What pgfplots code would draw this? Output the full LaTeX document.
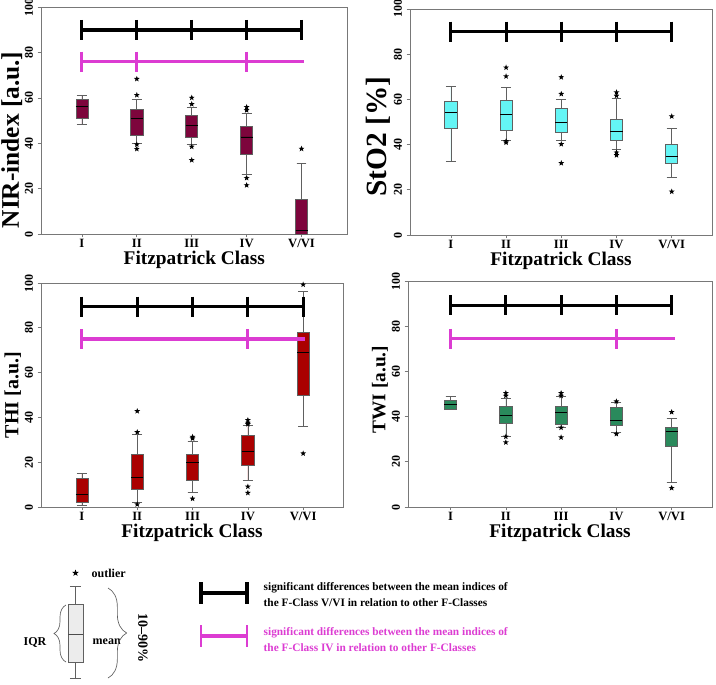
\documentclass[border=0pt]{standalone}
\usepackage{pgfplots}
\pgfplotsset{compat=1.18}
\usepgfplotslibrary{statistics}
\usetikzlibrary{decorations.pathreplacing}
\usepackage{fontspec}
\setmainfont{Liberation Serif}

\definecolor{nircol}{RGB}{125,5,60}
\definecolor{stocol}{RGB}{100,245,245}
\definecolor{thicol}{RGB}{170,0,0}
\definecolor{twicol}{RGB}{42,138,92}
\definecolor{sigmag}{RGB}{220,60,210}
\definecolor{axgray}{RGB}{120,120,120}

\pgfdeclareplotmark{fstar}{%
  \pgfpathmoveto{\pgfpointpolar{90}{\pgfplotmarksize}}%
  \pgfpathlineto{\pgfpointpolar{126}{0.42*\pgfplotmarksize}}%
  \pgfpathlineto{\pgfpointpolar{162}{\pgfplotmarksize}}%
  \pgfpathlineto{\pgfpointpolar{198}{0.42*\pgfplotmarksize}}%
  \pgfpathlineto{\pgfpointpolar{234}{\pgfplotmarksize}}%
  \pgfpathlineto{\pgfpointpolar{270}{0.42*\pgfplotmarksize}}%
  \pgfpathlineto{\pgfpointpolar{306}{\pgfplotmarksize}}%
  \pgfpathlineto{\pgfpointpolar{342}{0.42*\pgfplotmarksize}}%
  \pgfpathlineto{\pgfpointpolar{18}{\pgfplotmarksize}}%
  \pgfpathlineto{\pgfpointpolar{54}{0.42*\pgfplotmarksize}}%
  \pgfpathclose\pgfusepathqfill}

\pgfplotsset{
  panel/.style={
    scale only axis, anchor=south west,
    ymin=0, ymax=100,
    xtick={1,2,3,4,5}, xticklabels={I,II,III,IV,V/VI},
    ytick={0,20,40,60,80,100},
    /pgf/number format/assume math mode=true,
    tick pos=left, tick align=outside, major tick length=2.5pt,
    axis line style={axgray, line width=0.6pt},
    every tick/.style={axgray, line width=0.5pt},
    xticklabel style={font=\bfseries\fontsize{9.5}{10}\selectfont, inner sep=1.5pt},
    yticklabel style={rotate=90, anchor=south, font=\bfseries\fontsize{9}{9}\selectfont},
    xlabel={Fitzpatrick Class},
    xlabel style={font=\bfseries\fontsize{14.5}{15}\selectfont, yshift=3pt},
    ylabel shift=-4pt,
    boxplot/draw direction=y,
    boxplot/box extend=0.22,
    boxplot/whisker extend=0.18,
    boxplot/every median/.style={black, line width=0.7pt},
    clip=false,
  },
  obox/.style={solid, draw=axgray!80!black, line width=0.5pt, fill=#1,
    mark=fstar, mark size=2.3pt, mark options={fill=black, draw=black}},
  sigblack/.style={black, line width=2.5pt, mark=|, mark size=7.5pt, mark options={line width=2.3pt}},
  sigmagenta/.style={sigmag, line width=2.3pt, mark=|, mark size=7.5pt, mark options={line width=2.2pt}},
}

\begin{document}
\begin{tikzpicture}
\useasboundingbox (0pt,0pt) rectangle (537pt,-513pt);

% ---------------- NIR-index ----------------
\begin{axis}[panel, at={(30.75pt,-175.5pt)}, width=230pt, height=170pt,
  xmin=0.255, xmax=5.84, ylabel shift=-5pt,
  ylabel={NIR-index [a.u.]}, ylabel style={at={(ticklabel cs:0.415)}, font=\bfseries\fontsize{19}{19}\selectfont}]
\addplot[obox=nircol, boxplot prepared={draw position=1, lower whisker=48.4, lower quartile=51.0, median=56.3, upper quartile=59.3, upper whisker=61.2}] coordinates {};
\addplot[obox=nircol, boxplot prepared={draw position=2, lower whisker=39.9, lower quartile=43.7, median=51.1, upper quartile=55.0, upper whisker=59.3}] table[row sep=\\, y index=0] {y\\68.4\\61.3\\39.5\\37.5\\};
\addplot[obox=nircol, boxplot prepared={draw position=3, lower whisker=39.6, lower quartile=42.8, median=48.0, upper quartile=52.4, upper whisker=56.0}] table[row sep=\\, y index=0] {y\\60.1\\57.3\\38.5\\32.6\\};
\addplot[obox=nircol, boxplot prepared={draw position=4, lower whisker=26.4, lower quartile=35.3, median=42.8, upper quartile=47.4, upper whisker=53.3}] table[row sep=\\, y index=0] {y\\56.0\\54.6\\24.7\\21.5\\};
\addplot[obox=nircol, boxplot prepared={draw position=5, lower whisker=0, lower quartile=0, median=1.5, upper quartile=15.4, upper whisker=31.1}] table[row sep=\\, y index=0] {y\\37.6\\};
\addplot[sigblack] coordinates {(1,90) (2,90) (3,90) (4,90) (5,90)};
\addplot[sigmagenta, mark indices={1,2,4}] coordinates {(1,76) (2,76) (3,76) (4,76) (5.05,76)};
\end{axis}

% ---------------- StO2 ----------------
\begin{axis}[panel, at={(307.5pt,-176.25pt)}, width=226.5pt, height=169.5pt,
  xmin=0.26, xmax=5.73,
  ylabel={StO2 [\%]}, ylabel style={at={(ticklabel cs:0.435)}, font=\bfseries\fontsize{22}{22}\selectfont}]
\addplot[obox=stocol, boxplot prepared={draw position=1, lower whisker=32.6, lower quartile=47.2, median=54.3, upper quartile=59.1, upper whisker=65.8}] coordinates {};
\addplot[obox=stocol, boxplot prepared={draw position=2, lower whisker=42.0, lower quartile=46.3, median=53.4, upper quartile=59.8, upper whisker=65.3}] table[row sep=\\, y index=0] {y\\74.1\\70.2\\41.5\\40.9\\};
\addplot[obox=stocol, boxplot prepared={draw position=3, lower whisker=42.0, lower quartile=45.4, median=49.9, upper quartile=56.1, upper whisker=60.1}] table[row sep=\\, y index=0] {y\\69.8\\62.4\\40.2\\31.8\\};
\addplot[obox=stocol, boxplot prepared={draw position=4, lower whisker=37.8, lower quartile=42.0, median=45.7, upper quartile=51.2, upper whisker=60.4}] table[row sep=\\, y index=0] {y\\63.1\\61.6\\36.5\\35.3\\};
\addplot[obox=stocol, boxplot prepared={draw position=5, lower whisker=25.3, lower quartile=31.8, median=34.8, upper quartile=40.3, upper whisker=47.2}] table[row sep=\\, y index=0] {y\\52.5\\19.2\\};
\addplot[sigblack] coordinates {(1,90) (2,90) (3,90) (4,90) (5,90)};
\end{axis}

% ---------------- THI ----------------
\begin{axis}[panel, at={(30.75pt,-380.25pt)}, width=226.5pt, height=168pt,
  xmin=0.26, xmax=5.72,
  ylabel={THI [a.u.]}, ylabel style={font=\bfseries\fontsize{15}{15}\selectfont}]
\addplot[obox=thicol, boxplot prepared={draw position=1, lower whisker=0.6, lower quartile=2.2, median=5.5, upper quartile=12.7, upper whisker=14.9}] coordinates {};
\addplot[obox=thicol, boxplot prepared={draw position=2, lower whisker=2.2, lower quartile=7.8, median=13.1, upper quartile=23.7, upper whisker=32.5}] table[row sep=\\, y index=0] {y\\42.8\\33.4\\1.2\\};
\addplot[obox=thicol, boxplot prepared={draw position=3, lower whisker=6.6, lower quartile=11.8, median=19.9, upper quartile=23.7, upper whisker=29.3}] table[row sep=\\, y index=0] {y\\31.3\\30.6\\3.7\\};
\addplot[obox=thicol, boxplot prepared={draw position=4, lower whisker=11.8, lower quartile=18.4, median=24.9, upper quartile=31.9, upper whisker=36.4}] table[row sep=\\, y index=0] {y\\38.8\\37.6\\37.0\\9.1\\6.3\\};
\addplot[obox=thicol, boxplot prepared={draw position=5, lower whisker=36.1, lower quartile=49.7, median=69.1, upper quartile=77.9, upper whisker=96.1}] table[row sep=\\, y index=0] {y\\99.3\\23.9\\};
\addplot[sigblack] coordinates {(1,89.5) (2,89.5) (3,89.5) (4,89.5) (5,89.5)};
\addplot[sigmagenta, mark indices={1,4}] coordinates {(1,75) (2,75) (3,75) (4,75) (5.04,75)};
\end{axis}

% ---------------- TWI ----------------
\begin{axis}[panel, at={(306pt,-380.25pt)}, width=228pt, height=169.5pt,
  xmin=0.23, xmax=5.73,
  ylabel={TWI [a.u.]}, ylabel style={at={(ticklabel cs:0.52)}, font=\bfseries\fontsize{14.5}{15}\selectfont}]
\addplot[obox=twicol, boxplot prepared={draw position=1, lower whisker=43.0, lower quartile=43.3, median=45.5, upper quartile=47.4, upper whisker=48.9}] coordinates {};
\addplot[obox=twicol, boxplot prepared={draw position=2, lower whisker=31.1, lower quartile=37.0, median=40.7, upper quartile=44.4, upper whisker=48.2}] table[row sep=\\, y index=0] {y\\50.4\\49.2\\31.1\\28.6\\};
\addplot[obox=twicol, boxplot prepared={draw position=3, lower whisker=35.3, lower quartile=36.6, median=42.0, upper quartile=44.7, upper whisker=48.9}] table[row sep=\\, y index=0] {y\\50.4\\49.2\\35.1\\30.8\\};
\addplot[obox=twicol, boxplot prepared={draw position=4, lower whisker=33.1, lower quartile=36.0, median=38.4, upper quartile=44.2, upper whisker=46.2}] table[row sep=\\, y index=0] {y\\46.7\\32.3\\};
\addplot[obox=twicol, boxplot prepared={draw position=5, lower whisker=10.7, lower quartile=26.7, median=33.3, upper quartile=35.1, upper whisker=39.3}] table[row sep=\\, y index=0] {y\\42.0\\8.4\\};
\addplot[sigblack] coordinates {(1,89.2) (2,89.2) (3,89.2) (4,89.2) (5,89.2)};
\addplot[sigmagenta, mark indices={1,4}] coordinates {(1,74.4) (2,74.4) (3,74.4) (4,74.4) (5.06,74.4)};
\end{axis}

% ---------------- legend: box-plot key ----------------
\begin{axis}[at={(45.375pt,-513pt)}, anchor=south west, scale only axis,
  width=22.5pt, height=90pt, xmin=0, xmax=1, ymin=0, ymax=120,
  axis lines=none, clip=false,
  boxplot/draw direction=y, boxplot/box extend=0.5, boxplot/whisker extend=0.37,
  boxplot/every median/.style={black!70, line width=0.6pt}]
\addplot[solid, draw=axgray!80!black, line width=0.6pt, fill=gray!15,
  mark=fstar, mark size=2.6pt, mark options={fill=black, draw=black},
  boxplot prepared={draw position=0.5, lower whisker=6, lower quartile=22, median=50, upper quartile=80, upper whisker=98}]
  table[row sep=\\, y index=0] {y\\111\\};
\end{axis}

\begin{scope}[x=0.75pt, y=-0.75pt]
  \node[anchor=west, font=\bfseries\fontsize{9}{9}\selectfont] at (87,573) {outlier};
  \node[anchor=east, font=\bfseries\fontsize{9}{9}\selectfont] at (51,642) {IQR};
  \node[anchor=west, font=\bfseries\fontsize{9}{9}\selectfont] at (88,642) {mean};
  \node[rotate=-90, font=\bfseries\fontsize{10.5}{11}\selectfont] at (143,638) {10--90\%};
  \draw[axgray!80!black, line width=0.5pt, decorate, decoration={brace, amplitude=9pt}] (66,662) -- (66,605);
  \draw[axgray!80!black, line width=0.5pt, decorate, decoration={brace, amplitude=14pt}] (108,588) -- (108,678);
  % significance keys
  \draw[black, line width=2.5pt] (201,593) -- (247,593);
  \draw[black, line width=2.3pt] (201,582) -- (201,604);
  \draw[black, line width=2.3pt] (247,582) -- (247,604);
  \draw[sigmag, line width=2.3pt] (201,636) -- (247,636);
  \draw[sigmag, line width=2.2pt] (201,625) -- (201,647);
  \draw[sigmag, line width=2.2pt] (247,625) -- (247,647);
  \node[anchor=west, align=left, font=\bfseries\fontsize{8.5}{12}\selectfont] at (259,595)
    {significant differences between the mean indices of\\the F-Class V/VI in relation to other F-Classes};
  \node[anchor=west, align=left, text=sigmag, font=\bfseries\fontsize{8.5}{12}\selectfont] at (259,640)
    {significant differences between the mean indices of\\the F-Class IV in relation to other F-Classes};
\end{scope}
\end{tikzpicture}
\end{document}
